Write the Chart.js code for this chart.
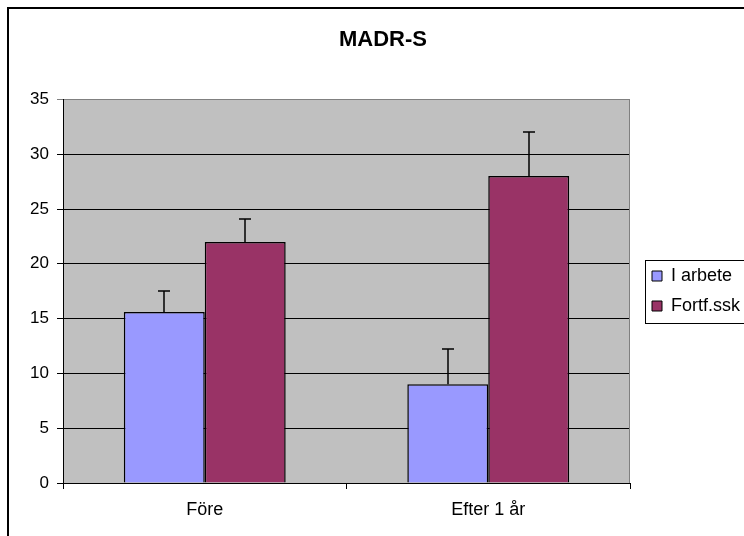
<!DOCTYPE html>
<html>
<head>
<meta charset="utf-8">
<script src="https://cdn.jsdelivr.net/npm/chart.js@4.4.1/dist/chart.umd.min.js"></script>
<style>
  html, body { margin: 0; padding: 0; background: #fff; overflow: hidden; }
  #frame { position: absolute; left: 7px; top: 7px; width: 748px; height: 540px; border: 2px solid #000; }
</style>
</head>
<body>
<div id="frame"><canvas id="madrs" width="748" height="540"></canvas></div>
<script>
var categories = ["Före", "Efter 1 år"];
var seriesNames = ["I arbete", "Fortf.ssk"];
var iArbete = [15.6, 9.0];
var fortfSsk = [22.0, 28.0];
var iArbeteErr = [1.9, 3.2];
var fortfSskErr = [2.1, 4.0];
var yTicks = [0, 5, 10, 15, 20, 25, 30, 35];

var font = "'Liberation Sans', Arial, sans-serif";

// grey plot area + grey right edge
var plotBackground = {
    id: 'plotBackground',
    beforeDraw: function(chart) {
        var a = chart.chartArea, ctx = chart.ctx;
        ctx.save();
        ctx.fillStyle = '#C0C0C0';
        ctx.fillRect(a.left, a.top, a.right - a.left, a.bottom - a.top);
        ctx.restore();
    },
    afterDraw: function(chart) {
        var a = chart.chartArea, ctx = chart.ctx;
        ctx.save();
        ctx.strokeStyle = '#808080';
        ctx.lineWidth = 1;
        ctx.beginPath();
        ctx.moveTo(a.right - 0.5, a.top);
        ctx.lineTo(a.right - 0.5, a.bottom);
        ctx.stroke();
        ctx.restore();
    }
};

// upward error bars
var errorBars = {
    id: 'errorBars',
    afterDatasetsDraw: function(chart) {
        var ctx = chart.ctx, y = chart.scales.y;
        ctx.save();
        ctx.strokeStyle = '#000';
        ctx.lineWidth = 1.5;
        chart.data.datasets.forEach(function(ds, di) {
            var meta = chart.getDatasetMeta(di);
            meta.data.forEach(function(bar, i) {
                var top = Math.round(y.getPixelForValue(ds.data[i] + ds.errors[i]));
                var x = Math.round(bar.x);
                ctx.beginPath();
                ctx.moveTo(x, bar.y);
                ctx.lineTo(x, top);
                ctx.moveTo(x - 6, top);
                ctx.lineTo(x + 6, top);
                ctx.stroke();
            });
        });
        ctx.restore();
    }
};

// fixed legend width, moved a bit, with a frame round it
var legendFrame = {
    id: 'legendFrame',
    beforeLayout: function(chart) {
        var lg = chart.legend;
        if (lg && !lg._fixed) {
            var fit = lg.fit;
            lg.fit = function() { fit.call(this); this.width = 127; };
            lg._fixed = true;
        }
    },
    afterLayout: function(chart) {
        chart.legend.left += 10;
        chart.legend.right += 10;
        chart.legend.top += 12;
        chart.legend.bottom += 12;
    },
    afterDraw: function(chart) {
        var hb = chart.legend.legendHitBoxes;
        if (!hb || !hb.length) return;
        var ctx = chart.ctx;
        var left = hb[0].left - 7, top = hb[0].top - 7;
        var last = hb[hb.length - 1];
        var bottom = last.top + last.height + 8;
        ctx.save();
        ctx.strokeStyle = '#000';
        ctx.lineWidth = 1;
        ctx.strokeRect(Math.round(left) + 0.5, Math.round(top) + 0.5, chart.width, Math.round(bottom - top));
        ctx.restore();
    }
};

new Chart(document.getElementById('madrs').getContext('2d'), {
    type: 'bar',
    data: {
        labels: categories,
        datasets: [{
            label: seriesNames[0],
            data: iArbete,
            errors: iArbeteErr,
            backgroundColor: '#9999FF',
            borderColor: '#000',
            borderWidth: 1.5
        }, {
            label: seriesNames[1],
            data: fortfSsk,
            errors: fortfSskErr,
            backgroundColor: '#993366',
            borderColor: '#000',
            borderWidth: 1.5
        }]
    },
    options: {
        responsive: false,
        animation: false,
        datasets: { bar: { categoryPercentage: 0.571, barPercentage: 1.0 } },
        layout: { padding: 0 },
        plugins: {
            title: {
                display: true,
                text: 'MADR-S',
                color: '#000',
                font: { family: font, size: 22, weight: 'bold' },
                padding: { top: 18, bottom: 46 }
            },
            legend: {
                position: 'right',
                align: 'center',
                labels: {
                    color: '#000',
                    font: { family: font, size: 18 },
                    boxWidth: 10,
                    boxHeight: 10,
                    padding: 12,
                    generateLabels: function(chart) {
                        return chart.data.datasets.map(function(ds, i) {
                            return {
                                text: ds.label,
                                fillStyle: ds.backgroundColor,
                                strokeStyle: '#000',
                                lineWidth: 1,
                                datasetIndex: i
                            };
                        });
                    }
                }
            },
            tooltip: { enabled: false }
        },
        scales: {
            x: {
                offset: true,
                afterFit: function(s) { s.height = 66; },
                grid: { display: true, drawOnChartArea: false, drawTicks: true, tickLength: 6, color: '#000' },
                border: { color: '#000', width: 1 },
                ticks: { color: '#000', padding: 10, font: { family: font, size: 18 } }
            },
            y: {
                min: 0,
                max: 35,
                afterFit: function(s) { s.width = 54; },
                afterBuildTicks: function(s) { s.ticks = yTicks.map(function(v) { return { value: v }; }); },
                grid: {
                    tickLength: 6,
                    color: function(c) { return c.tick && c.tick.value === 35 ? '#808080' : '#000'; }
                },
                border: { color: '#000', width: 1 },
                ticks: { color: '#000', padding: 8, font: { family: font, size: 17 } }
            }
        }
    },
    plugins: [plotBackground, errorBars, legendFrame]
});
</script>
</body>
</html>
